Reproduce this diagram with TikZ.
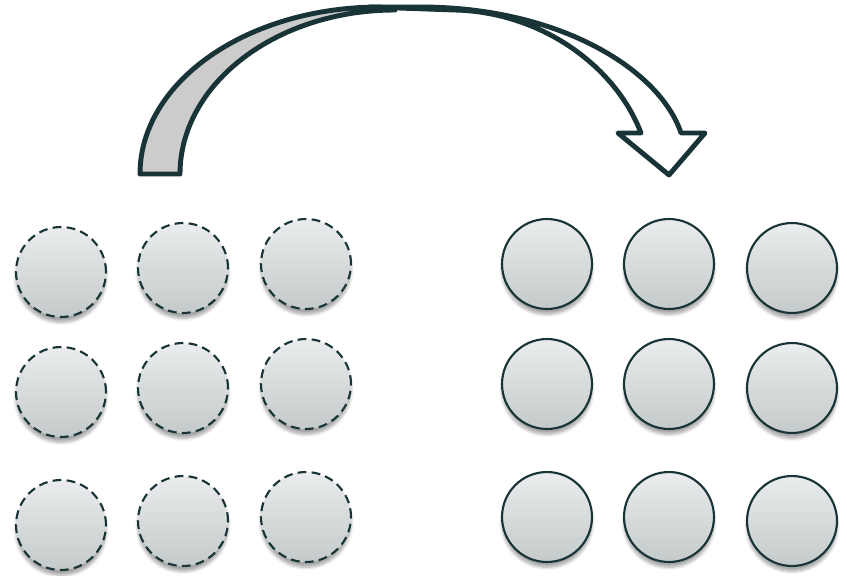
\documentclass[tikz,border=0pt]{standalone}
\definecolor{darkteal}{RGB}{24, 52, 54}
\definecolor{backgrey}{RGB}{204, 204, 204}
\definecolor{balltop}{RGB}{234, 236, 237}
\definecolor{ballbot}{RGB}{196, 202, 202}
\usepackage{tikz}
\usetikzlibrary{shadows.blur}

\begin{document}
\begin{tikzpicture}[x=0.02cm, y=-0.02cm,
  ball/.style={circle, draw=darkteal, line width=1.2pt, top color=balltop, bottom color=ballbot, minimum size=1.8cm, inner sep=0pt,
    blur shadow={shadow xshift=0pt, shadow yshift=-3pt, shadow blur steps=6, shadow opacity=35}},
  oldball/.style={ball, dash pattern=on 5pt off 3pt},
  arrowband/.style={draw=darkteal, line width=2.8pt, line join=round}]
  \useasboundingbox (0,0) rectangle (847,575);

  % Curved arrow: back side
  \path[arrowband, fill=backgrey] (140,174) .. controls (140,82) and (247,7) .. (380,7) -- (395,10)
    .. controls (276,10) and (180,84) .. (180,174) -- cycle;
  % Curved arrow: front side with head
  \path[arrowband, fill=white] (370,7) -- (420,7) .. controls (560,7) and (660,70) .. (681,133)
    -- (705,133) -- (669,175) -- (618,133) -- (641,133)
    .. controls (615,65) and (540,12) .. (455,10) -- cycle;

  % Left grid (dashed)
  \node[oldball] (l11) at (61,272) {};
  \node[oldball] (l12) at (183,268) {};
  \node[oldball] (l13) at (306,264) {};
  \node[oldball] (l21) at (61,392) {};
  \node[oldball] (l22) at (183,388) {};
  \node[oldball] (l23) at (306,384) {};
  \node[oldball] (l31) at (61,525) {};
  \node[oldball] (l32) at (183,521) {};
  \node[oldball] (l33) at (306,517) {};

  % Right grid (solid)
  \node[ball] (r11) at (547,264) {};
  \node[ball] (r12) at (669,264) {};
  \node[ball] (r13) at (792,268) {};
  \node[ball] (r21) at (547,384) {};
  \node[ball] (r22) at (669,384) {};
  \node[ball] (r23) at (792,388) {};
  \node[ball] (r31) at (547,517) {};
  \node[ball] (r32) at (669,517) {};
  \node[ball] (r33) at (792,521) {};
\end{tikzpicture}
\end{document}
